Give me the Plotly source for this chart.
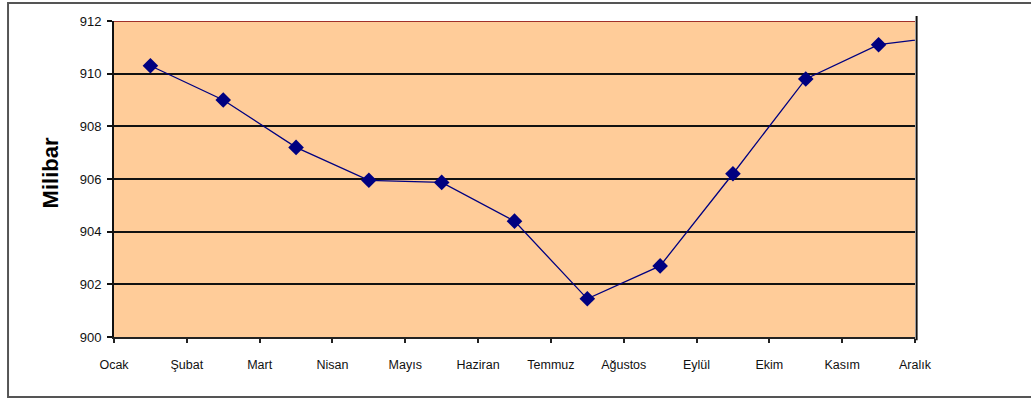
import plotly.graph_objects as go

# Monthly mean pressure (millibar)
months = ["Ocak", "Şubat", "Mart", "Nisan", "Mayıs", "Haziran", "Temmuz",
          "Ağustos", "Eylül", "Ekim", "Kasım", "Aralık"]
pressure = [910.3, 909.0, 907.2, 905.95, 905.87, 904.4, 901.45,
            902.7, 906.2, 909.8, 911.1, 911.45]
y_ticks = [900, 902, 904, 906, 908, 910, 912]

# Month labels sit on the tick marks; each month's point sits half a step to the right
tick_pos = list(range(len(months)))
point_pos = [i + 0.5 for i in tick_pos]

FONT = "Liberation Sans, Arial, sans-serif"

fig = go.Figure()
fig.add_trace(go.Scatter(
    x=point_pos, y=pressure, mode="lines+markers",
    line=dict(color="#000080", width=1.3),
    marker=dict(symbol="diamond", size=12, color="#000080"),
    cliponaxis=True, showlegend=False, hoverinfo="y",
))

fig.update_layout(
    width=1031, height=399,
    margin=dict(l=114, r=116, t=21, b=62),
    paper_bgcolor="white", plot_bgcolor="#FFCC99",
    font=dict(family=FONT, color="#111", size=13),
    xaxis=dict(
        range=[0, 11], tickmode="array", tickvals=tick_pos, ticktext=months,
        showgrid=False, zeroline=False, showline=True, linecolor="#222", linewidth=2,
        ticks="outside", ticklen=4, tickwidth=1.5, tickcolor="#222",
        tickfont=dict(size=12.5, family=FONT), ticklabelstandoff=11,
    ),
    yaxis=dict(
        range=[900, 912], tickmode="array", tickvals=y_ticks,
        showgrid=True, gridcolor="#111", gridwidth=1.5, zeroline=False,
        showline=True, linecolor="#111", linewidth=2,
        ticks="outside", ticklen=5, tickwidth=1.5, tickcolor="#111",
        tickfont=dict(size=13, family=FONT), ticklabelstandoff=3,
    ),
    annotations=[dict(
        text="<b>Milibar</b>", textangle=-90, showarrow=False,
        xref="paper", yref="paper", x=-0.079, y=0.52,
        xanchor="center", yanchor="middle",
        font=dict(size=22, family=FONT, color="#000"),
    )],
    shapes=[
        # outer chart frame
        dict(type="rect", xref="paper", yref="paper",
             x0=-0.1323, x1=1.3, y0=-0.19, y1=1.057,
             line=dict(color="#555", width=2), layer="below"),
        # top border of the plot area
        dict(type="line", xref="paper", yref="y", x0=0, x1=1, y0=912, y1=912,
             line=dict(color="#A0302A", width=2)),
        # right border of the plot area
        dict(type="line", xref="paper", yref="paper", x0=1.002, x1=1.002,
             y0=-0.01, y1=1.016, line=dict(color="#111", width=2)),
    ],
)

fig.write_html("out.html")
